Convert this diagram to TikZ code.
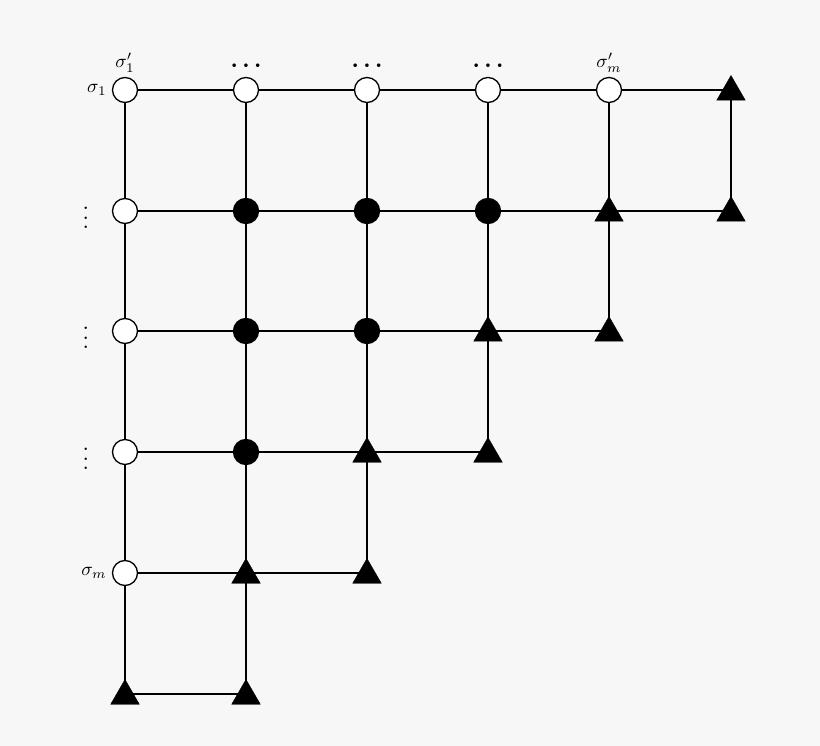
\documentclass[tikz,border=0pt]{standalone}
\usetikzlibrary{shapes.geometric}
\begin{document}
\begin{tikzpicture}[x=1pt,y=-1pt,
 wc/.style={circle,draw,line width=1.3pt,fill=white,minimum size=25pt,inner sep=0pt},
 bc/.style={circle,draw,line width=1.3pt,fill=black,minimum size=25pt,inner sep=0pt},
 tri/.style={regular polygon,regular polygon sides=3,fill=black,draw,minimum size=33pt,inner sep=0pt},
 edge/.style={line width=1.3pt},
 lab/.style={scale=1.9,inner sep=1pt},
 dotl/.style={scale=2.3,inner sep=1pt,font=\boldmath}]
\fill[gray!6] (0,0) rectangle (820,746);
\useasboundingbox (0,0) rectangle (820,746);
\def\X#1{\ifcase#1 125\or 246\or 367\or 488\or 609\or 731\fi}
\def\Y#1{\ifcase#1 90\or 211\or 331\or 452\or 573\or 694\fi}
\foreach \r in {0,...,5}{\foreach \c in {0,...,5}{\coordinate (p\r\c) at (\X{\c},\Y{\r});}}
\foreach \r/\e in {0/5,1/5,2/4,3/3,4/2,5/1}{\draw[edge] (p\r0) -- (p\r\e);}
\foreach \c/\e in {0/5,1/5,2/4,3/3,4/2,5/1}{\draw[edge] (p0\c) -- (p\e\c);}
\foreach \r/\c in {0/0,0/1,0/2,0/3,0/4,1/0,2/0,3/0,4/0}{\node[wc] (n\r\c) at (p\r\c) {};}
\foreach \r/\c in {1/1,1/2,1/3,2/1,2/2,3/1}{\node[bc] (n\r\c) at (p\r\c) {};}
\foreach \r/\c in {0/5,1/4,1/5,2/3,2/4,3/2,3/3,4/1,4/2,5/0,5/1}{\node[tri] (n\r\c) at ([yshift=-2pt]p\r\c) {};}
\node[lab,anchor=south] (t0) at ([yshift=2pt]n00.north) {$\sigma'_1$};
\node[lab,anchor=south] (t4) at ([yshift=2pt]n04.north) {$\sigma'_m$};
\foreach \c in {1,2,3}{\node[dotl,anchor=south] (t\c) at ([yshift=3pt]n0\c.north) {$\cdots$};}
\node[lab,anchor=east] (l0) at ([xshift=-3pt]n00.west) {$\sigma_1$};
\node[lab,anchor=east] (l4) at ([xshift=-3pt]n40.west) {$\sigma_m$};
\foreach \r in {1,2,3}{\node[dotl,anchor=east] (l\r) at ([xshift=-20pt]n\r0.west) {$\vdots$};}
\end{tikzpicture}
\end{document}
